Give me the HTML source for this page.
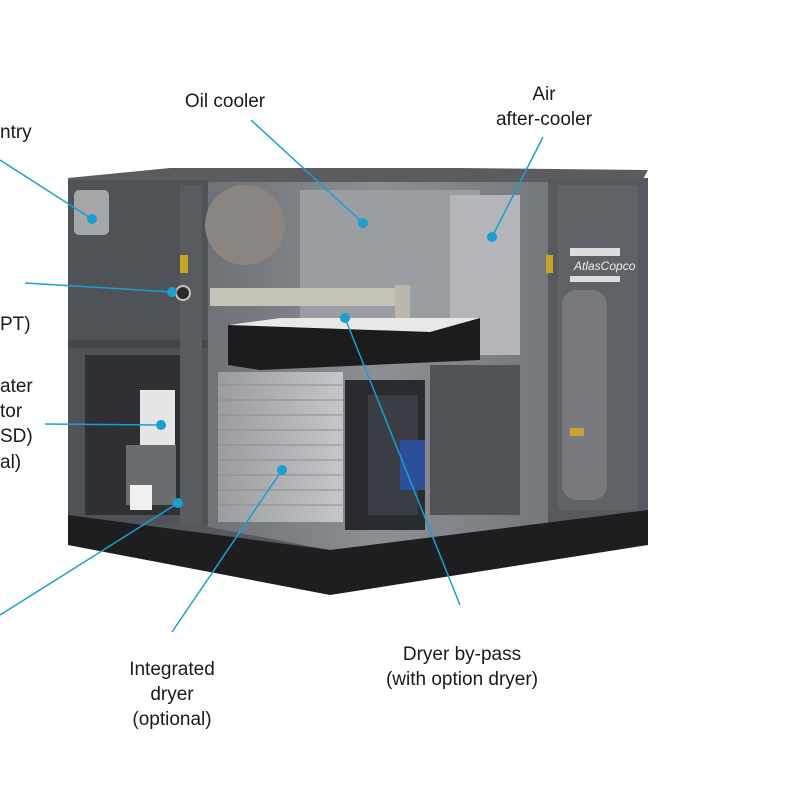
<!DOCTYPE html>
<html><head><meta charset="utf-8"><style>
html,body{margin:0;padding:0;background:#fff;}
svg{display:block}
text{font-family:"Liberation Sans",Arial,sans-serif;font-size:19px;fill:#1a1a1a}
</style></head><body>
<svg width="800" height="800" viewBox="0 0 800 800" xmlns="http://www.w3.org/2000/svg">
<defs>
<linearGradient id="glass" x1="0" y1="0" x2="1" y2="0">
<stop offset="0" stop-color="#6e7176"/><stop offset="0.5" stop-color="#8c8f94"/><stop offset="1" stop-color="#75787d"/>
</linearGradient>
<linearGradient id="fin" x1="0" y1="0" x2="1" y2="0">
<stop offset="0" stop-color="#9a9ca0"/><stop offset="1" stop-color="#c4c6c9"/>
</linearGradient>
</defs>
<!-- body filler down to base -->
<polygon points="68,490 648,490 648,515 330,552 68,520" fill="#55585c"/>
<!-- top -->
<polygon points="68,178 170,168 460,168 648,170 640,185 68,190" fill="#5a5c60"/>
<!-- left panel -->
<rect x="68" y="180" width="140" height="345" fill="#4f5256"/>
<rect x="68" y="340" width="140" height="8" fill="#44474a"/>
<rect x="85" y="355" width="100" height="160" fill="#2e3033"/>
<rect x="180" y="185" width="22" height="340" fill="#585b5f"/>
<!-- center glass -->
<polygon points="208,182 548,182 548,525 330,550 208,527" fill="url(#glass)"/>
<rect x="300" y="190" width="180" height="130" fill="#9a9da1"/>
<rect x="450" y="195" width="70" height="160" fill="#b3b5b8"/>
<circle cx="245" cy="225" r="40" fill="#8a8580"/>
<rect x="210" y="288" width="200" height="18" fill="#c8c3b8"/>
<rect x="395" y="285" width="15" height="55" fill="#bcb7ad"/>
<!-- dryer box top -->
<polygon points="228,325 280,318 480,318 480,360 260,370 228,365" fill="#1c1c1e"/>
<polygon points="228,325 280,318 480,318 430,332" fill="#e8e8e8"/>
<!-- fins -->
<rect x="218" y="372" width="125" height="150" fill="url(#fin)"/>
<g stroke="#8b8d90" stroke-width="1">
<line x1="218" y1="385" x2="343" y2="385"/><line x1="218" y1="400" x2="343" y2="400"/><line x1="218" y1="415" x2="343" y2="415"/><line x1="218" y1="430" x2="343" y2="430"/><line x1="218" y1="445" x2="343" y2="445"/><line x1="218" y1="460" x2="343" y2="460"/><line x1="218" y1="475" x2="343" y2="475"/><line x1="218" y1="490" x2="343" y2="490"/><line x1="218" y1="505" x2="343" y2="505"/>
</g>
<rect x="345" y="380" width="80" height="150" fill="#2a2b2e"/>
<rect x="368" y="395" width="50" height="120" fill="#3a3d44"/>
<rect x="400" y="440" width="25" height="50" fill="#2d4f9a"/>
<rect x="430" y="365" width="90" height="150" fill="#505357"/>
<!-- right panel -->
<rect x="548" y="178" width="100" height="340" fill="#56595d"/>
<rect x="558" y="185" width="80" height="325" fill="#5f6266"/>
<rect x="570" y="248" width="50" height="8" fill="#ddd"/>
<text x="574" y="270" style="font-size:12px;font-style:italic;fill:#eee">AtlasCopco</text>
<rect x="570" y="276" width="50" height="6" fill="#ddd"/>
<rect x="562" y="290" width="45" height="210" rx="15" fill="#7d8084" opacity="0.8"/>
<rect x="180" y="255" width="8" height="18" fill="#c9a42a"/>
<rect x="546" y="255" width="7" height="18" fill="#c9a42a"/>
<rect x="570" y="428" width="14" height="8" fill="#c9a42a"/>
<!-- left features -->
<rect x="74" y="190" width="35" height="45" rx="5" fill="#a5a6a8"/>
<circle cx="183" cy="293" r="7" fill="#2a2a2a" stroke="#c8c4b8" stroke-width="2"/>
<rect x="140" y="390" width="35" height="55" fill="#e6e6e6"/>
<rect x="126" y="445" width="50" height="60" fill="#6a6d70"/>
<rect x="130" y="485" width="22" height="25" fill="#f0f0f0"/>
<!-- base -->
<polygon points="68,515 330,550 648,510 648,545 330,595 68,545" fill="#1e1e20"/>
<!-- connectors -->
<g stroke="#1a9fd0" stroke-width="1.5" fill="none">
<line x1="0" y1="160" x2="92" y2="219"/>
<line x1="25" y1="283" x2="172" y2="292"/>
<line x1="45" y1="424" x2="161" y2="425"/>
<line x1="0" y1="615" x2="178" y2="503"/>
<line x1="172" y1="632" x2="282" y2="470"/>
<line x1="251" y1="120" x2="363" y2="223"/>
<line x1="543" y1="137" x2="492" y2="237"/>
<line x1="345" y1="318" x2="460" y2="605"/>
</g>
<g fill="#1a9fd0">
<circle cx="92" cy="219" r="5"/><circle cx="172" cy="292" r="5"/><circle cx="161" cy="425" r="5"/><circle cx="178" cy="503" r="5"/><circle cx="282" cy="470" r="5"/><circle cx="363" cy="223" r="5"/><circle cx="492" cy="237" r="5"/><circle cx="345" cy="318" r="5"/>
</g>
<!-- labels -->
<text x="0" y="138">ntry</text>
<text x="0" y="330">PT)</text>
<text x="0" y="392">ater</text>
<text x="0" y="417">tor</text>
<text x="0" y="442">SD)</text>
<text x="0" y="468">al)</text>
<text x="225" y="107" text-anchor="middle">Oil cooler</text>
<text x="544" y="100" text-anchor="middle">Air</text>
<text x="544" y="125" text-anchor="middle">after-cooler</text>
<text x="172" y="675" text-anchor="middle">Integrated</text>
<text x="172" y="700" text-anchor="middle">dryer</text>
<text x="172" y="725" text-anchor="middle">(optional)</text>
<text x="462" y="660" text-anchor="middle">Dryer by-pass</text>
<text x="462" y="685" text-anchor="middle">(with option dryer)</text>
</svg>
</body></html>
